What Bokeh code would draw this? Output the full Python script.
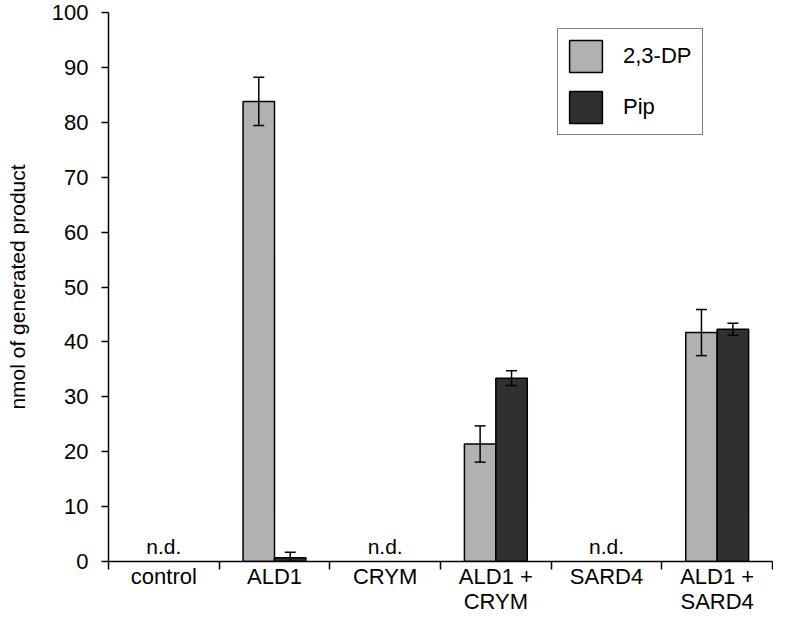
from bokeh.plotting import figure
from bokeh.models import (ColumnDataSource, Range1d, FixedTicker, Whisker, TeeHead,
                          Legend, LegendItem, LinearAxis)
from bokeh.core.properties import value
from bokeh.embed import file_html
from bokeh.resources import INLINE

categories = ["control", "ALD1", "CRYM", "ALD1 +\nCRYM", "SARD4", "ALD1 +\nSARD4"]
dp_values = [0.0, 83.8, 0.0, 21.4, 0.0, 41.7]
dp_errors = [0.0, 4.4, 0.0, 3.3, 0.0, 4.2]
pip_values = [0.0, 0.7, 0.0, 33.4, 0.0, 42.3]
pip_errors = [0.0, 1.0, 0.0, 1.35, 0.0, 1.1]
y_ticks = [0, 10, 20, 30, 40, 50, 60, 70, 80, 90, 100]
series_names = ["2,3-DP", "Pip"]

FONT = "Liberation Sans"
GRAY = "#b1b1b1"
DARK = "#303030"
BAR_W = 0.284
OFF = 0.142

p = figure(width=773, height=616, output_backend="svg", toolbar_location=None,
           x_range=Range1d(0, len(categories)), y_range=Range1d(0, 100),
           min_border_left=108, min_border_right=1, min_border_top=12,
           min_border_bottom=50, x_axis_type=None, y_axis_type=None)
p.outline_line_color = None
p.xgrid.visible = False
p.ygrid.visible = False

centers = [i + 0.5 for i in range(len(categories))]


def series_source(vals, errs, shift):
    xs, tops, lo, hi = [], [], [], []
    for c, v, e in zip(centers, vals, errs):
        if v > 0:
            xs.append(c + shift)
            tops.append(v)
            lo.append(max(0.0, v - e))
            hi.append(v + e)
    return ColumnDataSource(dict(x=xs, top=tops, lower=lo, upper=hi))


src_dp = series_source(dp_values, dp_errors, -OFF)
src_pip = series_source(pip_values, pip_errors, OFF)

r_dp = p.vbar(x="x", top="top", bottom=0, width=BAR_W, source=src_dp,
              fill_color=GRAY, line_color="black", line_width=1.5)
r_pip = p.vbar(x="x", top="top", bottom=0, width=BAR_W, source=src_pip,
               fill_color=DARK, line_color="black", line_width=1.5)

for src in (src_dp, src_pip):
    w = Whisker(source=src, base="x", lower="lower", upper="upper",
                line_color="black", line_width=1.5, level="overlay",
                upper_head=TeeHead(size=11, line_width=1.5, line_color="black"),
                lower_head=TeeHead(size=11, line_width=1.5, line_color="black"))
    p.add_layout(w)

# n.d. labels
nd_x = [c for c, a, b in zip(centers, dp_values, pip_values) if a == 0 and b == 0]
nd_src = ColumnDataSource(dict(x=nd_x, y=[2.7] * len(nd_x), t=["n.d."] * len(nd_x)))
p.text(x="x", y="y", text="t", source=nd_src, text_align="center",
       text_baseline="alphabetic", text_font=value(FONT), text_font_size="21px",
       text_color="black")

# axes
yax = LinearAxis(ticker=FixedTicker(ticks=y_ticks, minor_ticks=[]),
                 axis_label="nmol of generated product")
yax.axis_line_width = 1.5
yax.major_tick_line_width = 1.5
yax.major_tick_out = 7
yax.major_tick_in = 0
yax.minor_tick_line_color = None
yax.major_label_standoff = 13
yax.major_label_text_font = FONT
yax.major_label_text_font_size = "22px"
yax.major_label_text_color = "black"
yax.axis_label_text_font = FONT
yax.axis_label_text_font_size = "21px"
yax.axis_label_text_font_style = "normal"
yax.axis_label_text_color = "black"
yax.axis_label_standoff = 20
p.add_layout(yax, "left")

xax = LinearAxis(ticker=FixedTicker(ticks=centers,
                                    minor_ticks=list(range(len(categories) + 1))))
xax.major_label_overrides = {c: lab for c, lab in zip(centers, categories)}
xax.axis_line_width = 1.5
xax.major_tick_line_color = None
xax.major_tick_out = 0
xax.major_tick_in = 0
xax.minor_tick_line_width = 1.5
xax.minor_tick_out = 8
xax.minor_tick_in = 0
xax.major_label_standoff = -6
xax.major_label_text_font = FONT
xax.major_label_text_font_size = "22px"
xax.major_label_text_line_height = 1.0
xax.major_label_text_color = "black"
p.add_layout(xax, "below")

legend = Legend(items=[LegendItem(label=series_names[0], renderers=[r_dp]),
                       LegendItem(label=series_names[1], renderers=[r_pip])],
                location=(449, 426))
legend.border_line_color = "black"
legend.border_line_width = 1.5
legend.background_fill_color = "white"
legend.background_fill_alpha = 1.0
legend.padding = 7
legend.margin = 0
legend.spacing = 11
legend.glyph_width = 41
legend.glyph_height = 40
legend.label_height = 40
legend.label_width = 72
legend.label_standoff = 17
legend.label_text_font = FONT
legend.label_text_font_size = "22px"
legend.label_text_color = "black"
p.add_layout(legend, "center")

open("out.html", "w").write(file_html(p, INLINE))
